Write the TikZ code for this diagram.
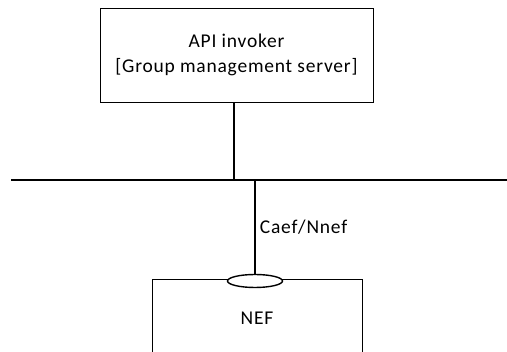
\documentclass[tikz,border=0pt]{standalone}
\usepackage{fontspec}
\setmainfont[LetterSpace=4]{Carlito}
\usetikzlibrary{positioning,shapes.geometric}
\definecolor{figdark}{gray}{0.0}
\tikzset{
  entity/.style={
    rectangle, draw=figdark, line width=0.9pt, fill=white,
    align=center, inner sep=3pt, font=\fontsize{19.5}{25}\selectfont
  },
  link/.style={draw=figdark, line width=1.8pt},
  refpoint/.style={
    ellipse, draw=figdark, line width=1.4pt, fill=white,
    minimum width=55pt, minimum height=13pt, inner sep=0pt
  },
  ifacelabel/.style={font=\fontsize{19.5}{22}\selectfont, inner sep=1pt}
}
\begin{document}
\begin{tikzpicture}[x=1pt, y=-1pt]
  \useasboundingbox (0,0) rectangle (507,352);
  \clip (0,0) rectangle (507,352);
  \node[entity, minimum width=273pt, minimum height=94pt] (invoker) at (236.5,55)
    {\raisebox{-2pt}{API invoker}\\{\raisebox{-2pt}{[Group management server]}}};
  \coordinate (busL) at (11,180);
  \coordinate (busR) at (507,180);
  \coordinate (tapA) at (234,180);
  \coordinate (tapB) at (255,180);
  \node[entity, minimum width=210pt, minimum height=78pt] (nef) at (257,318) {NEF};
  \node[refpoint] (caef) at (255,281) {};

  \draw[link] (busL) -- (busR);
  \draw[link] (invoker.south -| tapA) -- (tapA);
  \draw[link] (tapB) -- node[ifacelabel, right=3pt] {Caef/Nnef} (caef.north);
\end{tikzpicture}
\end{document}
